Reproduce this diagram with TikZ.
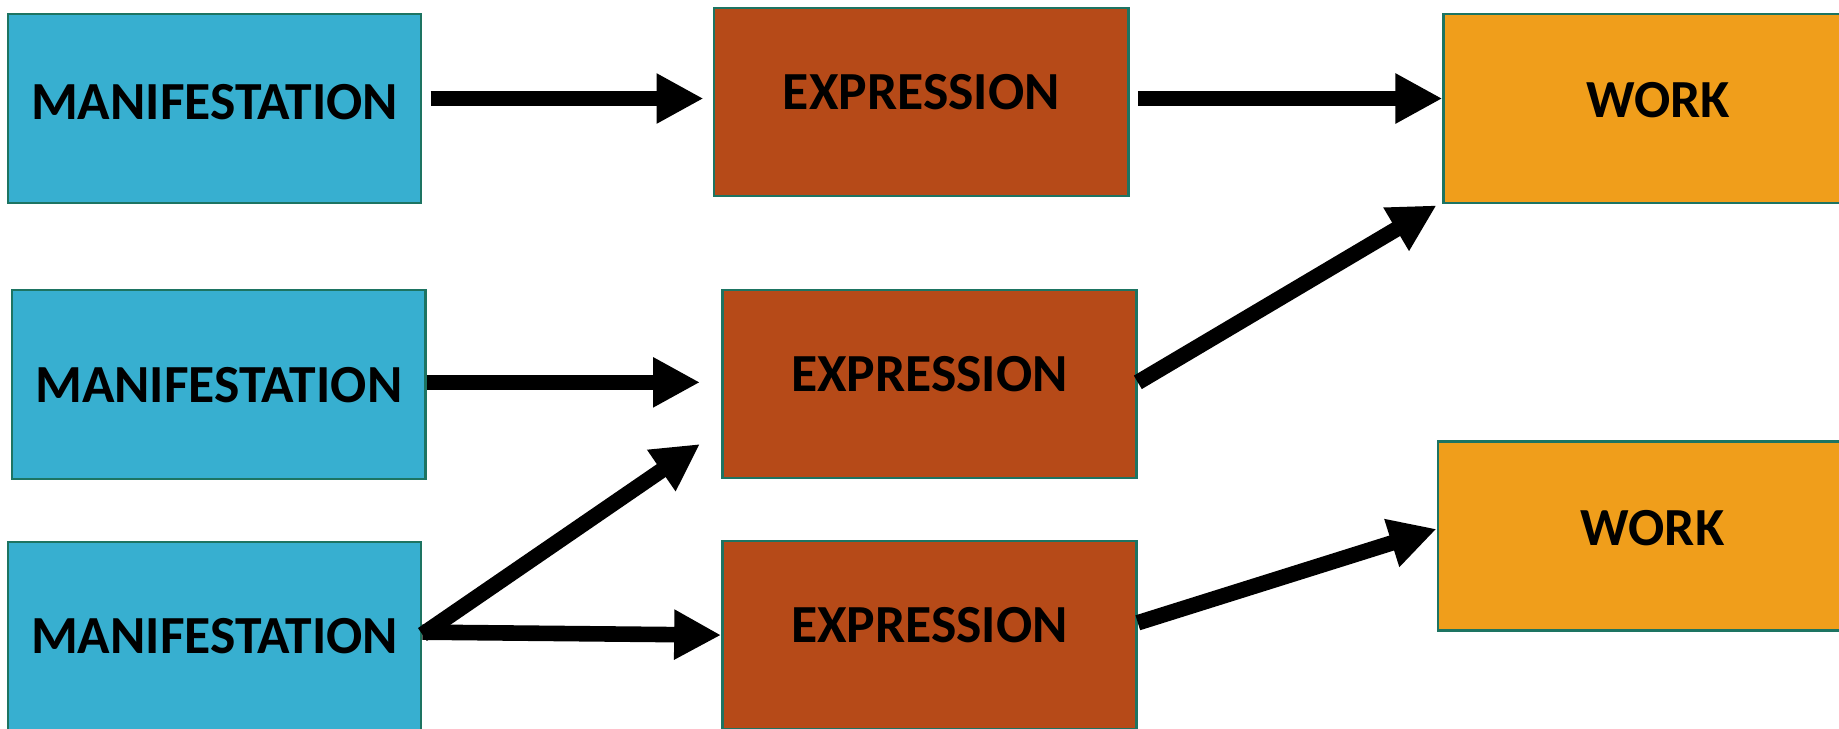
\documentclass[tikz,border=0pt]{standalone}
\usepackage{fontspec}
\setmainfont{Carlito}
\usetikzlibrary{calc,arrows.meta}
\definecolor{manicol}{HTML}{37AFD0}
\definecolor{exprcol}{HTML}{B64A18}
\definecolor{workcol}{HTML}{F09E1B}
\definecolor{edgecol}{HTML}{1D7462}
\tikzset{
	box/.style={draw=edgecol, line width=0.6pt, inner sep=0pt, font=\fontsize{13}{15}\selectfont\bfseries,
		text height=0.3cm, text depth=0.12cm},
	manibox/.style={box, fill=manicol, minimum width=3.52cm, minimum height=1.61cm},
	exprbox/.style={box, fill=exprcol, minimum width=3.53cm, minimum height=1.60cm, text depth=0.18cm},
	workbox/.style={box, fill=workcol, minimum width=3.66cm, minimum height=1.61cm, text depth=0.14cm},
	arr/.style={line width=0.133cm, -{Triangle[length=0.4cm,width=0.4cm]}}
}
\begin{document}
\begin{tikzpicture}[x=0.01cm,y=-0.01cm]
				%%%%% START %%%%%
				\useasboundingbox (0,0) rectangle (1568,621);
				\clip (0,0) rectangle (1568,621);
				
				\node[manibox] (mani1) at (183,92.5) {MANIFESTATION};
				\node[manibox, text depth=0cm] (mani2) at (186.5,328) {MANIFESTATION};
				\node[manibox, text depth=0cm] (mani3) at (183,542.5) {MANIFESTATION};
				
				\node[exprbox] (expr1) at (785.5,87) {EXPRESSION};
				\node[exprbox] (expr2) at (792.5,327.5) {EXPRESSION};
				\node[exprbox] (expr3) at (792.5,541.5) {EXPRESSION};
				
				\node[workbox] (work1) at (1414,92.5) {WORK};
				\node[workbox] (work2) at (1409,457) {WORK};
				
				\draw[arr] ($(mani1.east)+(7,-8.5)$) -- ($(expr1.west)+(-8,-3)$);
				\draw[arr] ($(expr1.east)+(7,-3)$) -- ($(work1.west)+(0,-8.5)$);
				\draw[arr] ($(mani2.east)+(0,-2)$) -- ($(expr2.west)+(-18,-1.5)$);
				\draw[arr] ($(expr2.east)+(0,-1.5)$) -- ($(work1.south west)+(-5,1)$);
				\draw[arr] ($(mani3.east)+(0,-1.5)$) -- ($(expr2.south west)+(-18,-30)$);
				\draw[arr] ($(mani3.east)+(0,-3.5)$) -- (expr3.west);
				\draw[arr] ($(expr3.east)+(0,-10.5)$) -- ($(work2.west)+(0,-6)$);
				%%%%% END %%%%%
\end{tikzpicture}
\end{document}
